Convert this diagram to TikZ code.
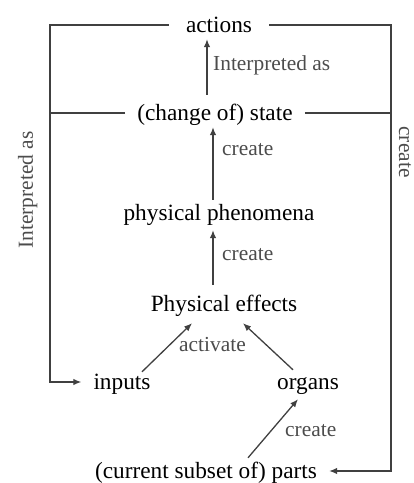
\documentclass[tikz,border=0pt]{standalone}
\usepackage{fontspec}
\setmainfont{Liberation Serif}
\usetikzlibrary{arrows.meta}
\tikzset{
  item/.style={inner xsep=12pt, inner ysep=6pt, text height=14pt, text depth=0pt,
    font=\fontsize{23.3}{28}\selectfont},
  lbl/.style={inner sep=0pt, text=black!70, font=\fontsize{21.4}{26}\selectfont},
  rim/.style={draw=black!75, line width=1.3pt},
  link/.style={rim, -{Latex[length=8pt,width=6.5pt]}},
}
\begin{document}
\begin{tikzpicture}[x=1pt,y=-1pt]
  \useasboundingbox (0,0) rectangle (414,483);
  \coordinate (lft) at (50,0);
  \coordinate (rgt) at (391,0);

  \node[item, inner xsep=17pt] (actions) at (219,25) {actions};
  \node[item] (state) at (215,113) {(change of) state};
  \node[item] (phen) at (219,213) {physical phenomena};
  \node[item] (effects) at (224,304) {Physical effects};
  \node[item] (inputs) at (122,382) {inputs};
  \node[item] (organs) at (308,382) {organs};
  \node[item] (parts) at (206,471) {(current subset of) parts};

  \node[lbl, anchor=base west] (interp) at (213,70) {Interpreted as};
  \node[lbl, anchor=base west] (create1) at (222,155) {create};
  \node[lbl, anchor=base west] (create2) at (222,260) {create};
  \node[lbl, anchor=base west] (activate) at (179,351) {activate};
  \node[lbl, anchor=base west] (create3) at (285,436) {create};
  \node[lbl, anchor=base, rotate=90] (interpleft) at (33,190) {Interpreted as};
  \node[lbl, anchor=base, rotate=-90] (createright) at (399,152) {create};

  % outer loops
  \draw[link] (actions.west) -- (actions.west -| lft) -- (inputs.west -| lft) -- (inputs.west);
  \draw[link] (actions.east) -- (actions.east -| rgt) -- (parts.east -| rgt) -- (parts.east);
  \draw[rim] (state.west) -- (state.west -| lft);
  \draw[rim] (state.east) -- (state.east -| rgt);

  % chain
  \draw[link] ([xshift=-8pt,yshift=5pt]state.north) -- ([xshift=-12pt,yshift=-1pt]actions.south);
  \draw[link] ([xshift=-6pt]phen.north) -- ([xshift=-2pt,yshift=-1pt]state.south);
  \draw[link] ([xshift=-11pt,yshift=6pt]effects.north) -- ([xshift=-6pt,yshift=-4pt]phen.south);
  \draw[link] ([xshift=20pt,yshift=-3pt]inputs.north) -- ([xshift=-32pt,yshift=-6pt]effects.south);
  \draw[link] ([xshift=-15pt,yshift=-1pt]organs.north) -- ([xshift=19pt,yshift=-6pt]effects.south);
  \draw[link] ([xshift=42pt]parts.north) -- ([xshift=-10pt,yshift=-4pt]organs.south);
\end{tikzpicture}
\end{document}
